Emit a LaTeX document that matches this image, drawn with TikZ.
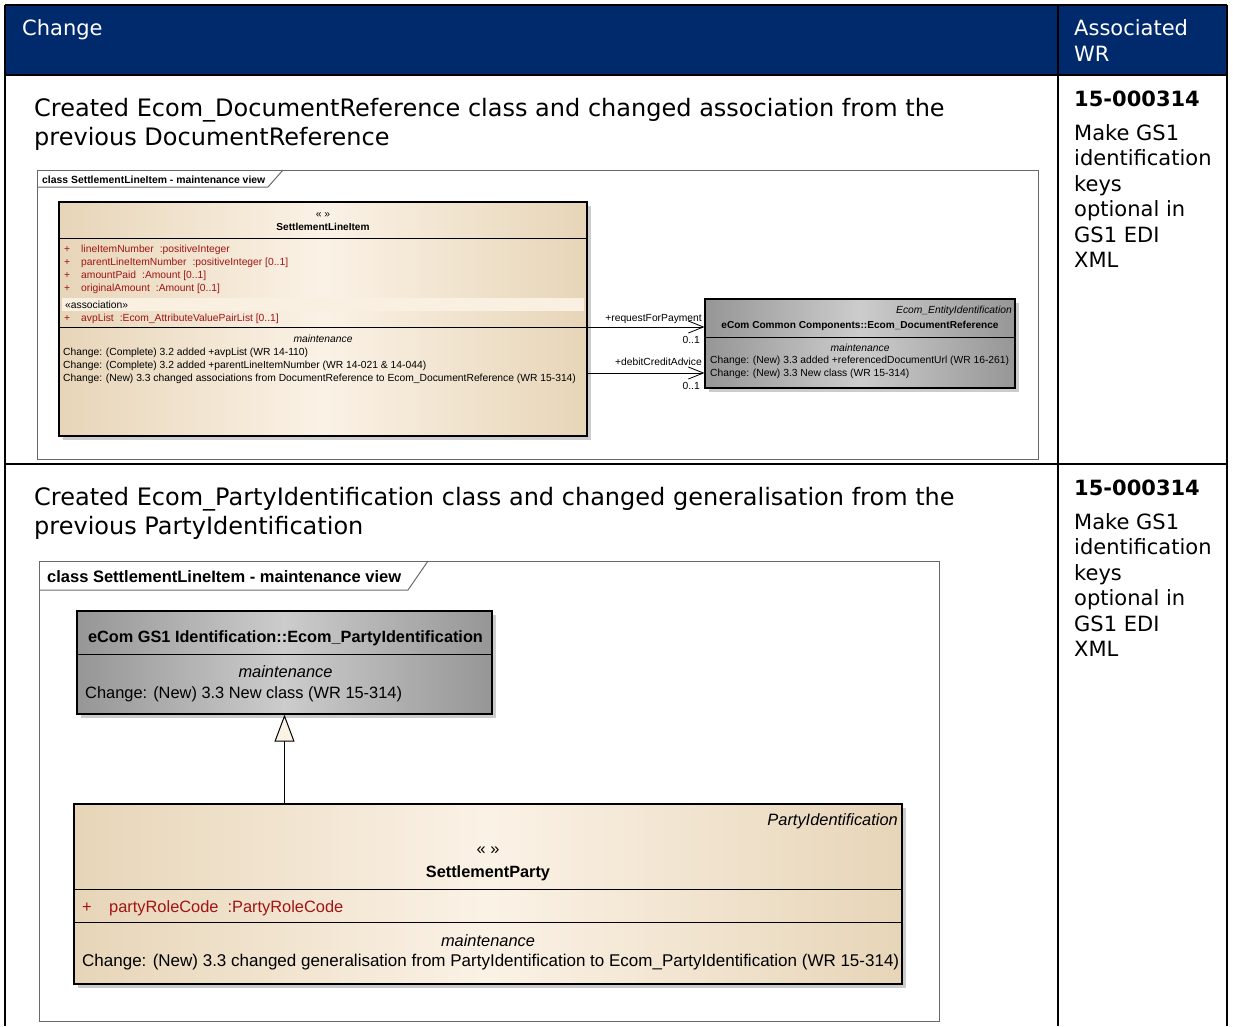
\documentclass[tikz,border=0pt]{standalone}
\usepackage{fontspec}
\setmainfont{DejaVu Sans}
\newfontfamily\umlfont{Liberation Sans}
\usetikzlibrary{arrows.meta,shadows}

\definecolor{headblue}{RGB}{0,42,108}
\definecolor{beigeedge}{RGB}{231,213,184}
\definecolor{beigemid}{RGB}{251,242,230}
\definecolor{greyedge}{RGB}{150,150,150}
\definecolor{greymid}{RGB}{204,204,204}
\definecolor{attrred}{RGB}{160,20,20}
\definecolor{frameline}{RGB}{105,105,105}
\definecolor{bandbeige}{RGB}{249,240,226}

\begin{document}
\begin{tikzpicture}
	[x=1pt,y=-1pt,
		tableline/.style	={draw=black, line width=2.5pt},
		headtext/.style		={anchor=base west, inner sep=0pt, text=white,
									font=\fontsize{21}{25}\selectfont},
		rowtext/.style		={anchor=base west, inner sep=0pt,
									font=\fontsize{24}{29}\selectfont},
		wrnum/.style		={anchor=base west, inner sep=0pt,
									font=\fontsize{21}{25}\selectfont\bfseries},
		wrtext/.style		={anchor=base west, inner sep=0pt,
									font=\fontsize{21}{25}\selectfont},
		frame/.style		={draw=frameline, line width=1pt},
		beigeclass/.style	={rectangle, draw=black, line width=1.2pt, inner sep=0pt,
									left color=beigeedge, right color=beigeedge, middle color=beigemid,
									drop shadow={shadow xshift=4pt, shadow yshift=-4pt, opacity=1, fill=black!20}},
		greyclass/.style	={rectangle, draw=black, line width=1.2pt, inner sep=0pt,
									left color=greyedge, right color=greyedge, middle color=greymid,
									drop shadow={shadow xshift=4pt, shadow yshift=-4pt, opacity=1, fill=black!20}},
		small/.style		={anchor=base west, inner sep=0pt,
									font=\umlfont\fontsize{10.3}{12}\selectfont},
		smallbf/.style		={small, font=\umlfont\fontsize{10.1}{12}\selectfont\bfseries},
		smallit/.style		={small, font=\umlfont\fontsize{10.3}{12}\selectfont\itshape},
		big/.style			={anchor=base west, inner sep=0pt,
									font=\umlfont\fontsize{16.4}{19}\selectfont},
		bigbf/.style		={big, font=\umlfont\fontsize{16.3}{19}\selectfont\bfseries},
		bigit/.style		={big, font=\umlfont\fontsize{16.4}{19}\selectfont\itshape},
		assoc/.style		={draw, line width=0.8pt, -{Straight Barb[length=15pt,width=12pt,line width=0.8pt]}},
		gen/.style			={draw, line width=1pt, -{Triangle[open,length=27pt,width=20pt,fill=beigemid,line width=1pt]}}
	]
\useasboundingbox (0,0) rectangle (1233,1026);

% table
\fill[headblue] (5,5) rectangle (1227,75);
\draw[tableline] (5,5) -- (1227,5);
\draw[tableline] (5,5) -- (5,1026);
\draw[tableline] (1227,5) -- (1227,1026);
\draw[tableline] (1058,5) -- (1058,1026);
\draw[tableline] (5,75) -- (1227,75);
\draw[tableline] (5,464) -- (1227,464);

\node[headtext] (head change) at (22,35) {Change};
\node[headtext] (head wr a) at (1074,35) {Associated};
\node[headtext] (head wr b) at (1074,61) {WR};

% row 1
\node[rowtext] (row1 a) at (34,116) {Created Ecom\_DocumentReference class and changed association from the};
\node[rowtext] (row1 b) at (34,145) {previous DocumentReference};

% right column, both rows
\foreach \dy/\r in {0/1,389/2}
{
	\node[wrnum] (wr\r) at (1074,106+\dy) {15-000314};
	\node[wrtext] (wr\r a) at (1074,140+\dy) {Make GS1};
	\node[wrtext] (wr\r b) at (1074,165.5+\dy) {identification};
	\node[wrtext] (wr\r c) at (1074,191+\dy) {keys};
	\node[wrtext] (wr\r d) at (1074,216.5+\dy) {optional in};
	\node[wrtext] (wr\r e) at (1074,242+\dy) {GS1 EDI};
	\node[wrtext] (wr\r f) at (1074,267.5+\dy) {XML};
}

% diagram 1
\draw[frame] (37,170) rectangle (1038,459);
\draw[frame] (37,187) -- (268,187) -- (283,170);
\node[smallbf, font=\umlfont\fontsize{10.4}{12}\selectfont\bfseries] (tab1) at (42,183.5) {class SettlementLineItem - maintenance view};

\node[beigeclass, minimum width=528pt, minimum height=234pt] (sli) at (323,319) {};
\fill[bandbeige] (62,298) rectangle (584,311);
\draw[line width=1pt] (sli.west |- 0,238) -- (sli.east |- 0,238);
\draw[line width=1pt] (sli.west |- 0,327) -- (sli.east |- 0,327);

\node[small, anchor=base] (sli guil) at (323,217.5) {« »};
\node[smallbf, anchor=base] (sli name) at (323,230.5) {SettlementLineItem};
\foreach \attr [count=\i] in {lineItemNumber\hspace{6pt}:positiveInteger,
		parentLineItemNumber\hspace{6pt}:positiveInteger [0..1],
		amountPaid\hspace{6pt}:Amount [0..1],
		originalAmount\hspace{6pt}:Amount [0..1]}
{
	\node[small, text=attrred] (plus\i) at (64,239.5+13*\i) {+};
	\node[small, text=attrred] (attr\i) at (81,239.5+13*\i) {\attr};
}
\node[small] (assoc stereo) at (65,308.5) {«association»};
\node[small, text=attrred] (plus5) at (64,321.5) {+};
\node[small, text=attrred] (attr5) at (81,321.5) {avpList\hspace{6pt}:Ecom\_AttributeValuePairList [0..1]};
\node[smallit, anchor=base] (sli maint) at (323,342.5) {maintenance};
\node[small] (sli chg1) at (63,355.5) {Change: (Complete) 3.2 added +avpList (WR 14-110)};
\node[small] (sli chg2) at (63,368.5) {Change: (Complete) 3.2 added +parentLineItemNumber (WR 14-021 \& 14-044)};
\node[small] (sli chg3) at (63,381.5) {Change: (New) 3.3 changed associations from DocumentReference to Ecom\_DocumentReference (WR 15-314)};

\node[greyclass, minimum width=310pt, minimum height=89pt] (docref) at (860,343.5) {};
\draw[line width=1pt] (docref.west |- 0,337) -- (docref.east |- 0,337);
\node[smallit, anchor=base east] (docref parent) at (1012,313) {Ecom\_EntityIdentification};
\node[smallbf, anchor=base] (docref name) at (860,328.5) {eCom Common Components::Ecom\_DocumentReference};
\node[smallit, anchor=base] (docref maint) at (860,351) {maintenance};
\node[small] (docref chg1) at (710,363.5) {Change: (New) 3.3 added +referencedDocumentUrl (WR 16-261)};
\node[small] (docref chg2) at (710,376.5) {Change: (New) 3.3 New class (WR 15-314)};

\coordinate (rfp end) at (docref.west |- 0,327);
\coordinate (dca end) at (docref.west |- 0,373);
\draw[assoc] (sli.east |- rfp end) -- (rfp end);
\draw[assoc] (sli.east |- dca end) -- (dca end);
\node[small, anchor=base east] (rfp role) at (702,321) {+requestForPayment};
\node[small, anchor=base east] (rfp mult) at (700,343.5) {0..1};
\node[small, anchor=base east] (dca role) at (702,365.5) {+debitCreditAdvice};
\node[small, anchor=base east] (dca mult) at (700,389) {0..1};

% row 2
\node[rowtext] (row2 a) at (34,505) {Created Ecom\_PartyIdentification class and changed generalisation from the};
\node[rowtext] (row2 b) at (34,534) {previous PartyIdentification};

% diagram 2
\draw[frame] (39,561) rectangle (939,1021);
\draw[frame] (39,590) -- (408,590) -- (428,561);
\node[bigbf, font=\umlfont\fontsize{16.5}{19}\selectfont\bfseries] (tab2) at (47,582) {class SettlementLineItem - maintenance view};

\node[greyclass, minimum width=415pt, minimum height=103pt] (pid) at (284.5,662.5) {};
\draw[line width=1pt] (pid.west |- 0,654) -- (pid.east |- 0,654);
\node[bigbf, anchor=base] (pid name) at (285.5,642) {eCom GS1 Identification::Ecom\_PartyIdentification};
\node[bigit, anchor=base] (pid maint) at (285.5,677) {maintenance};
\node[big] (pid chg) at (85,698) {Change: (New) 3.3 New class (WR 15-314)};

\node[beigeclass, minimum width=828pt, minimum height=180pt] (sparty) at (488,894) {};
\draw[line width=1pt] (sparty.west |- 0,889) -- (sparty.east |- 0,889);
\draw[line width=1pt] (sparty.west |- 0,922) -- (sparty.east |- 0,922);
\node[bigit, anchor=base east] (sparty parent) at (898,825) {PartyIdentification};
\node[big, anchor=base] (sparty guil) at (488,854) {« »};
\node[bigbf, anchor=base] (sparty name) at (488,877) {SettlementParty};
\node[big, text=attrred] (plus6) at (82,912) {+};
\node[big, text=attrred] (attr6) at (109,912) {partyRoleCode\hspace{9pt}:PartyRoleCode};
\node[bigit, anchor=base] (sparty maint) at (488,946) {maintenance};
\node[big, font=\umlfont\fontsize{17}{19}\selectfont] (sparty chg) at (82,966) {Change: (New) 3.3 changed generalisation from PartyIdentification to Ecom\_PartyIdentification (WR 15-314)};

\draw[gen] (pid.south |- sparty.north) -- (pid.south);
\end{tikzpicture}
\end{document}
